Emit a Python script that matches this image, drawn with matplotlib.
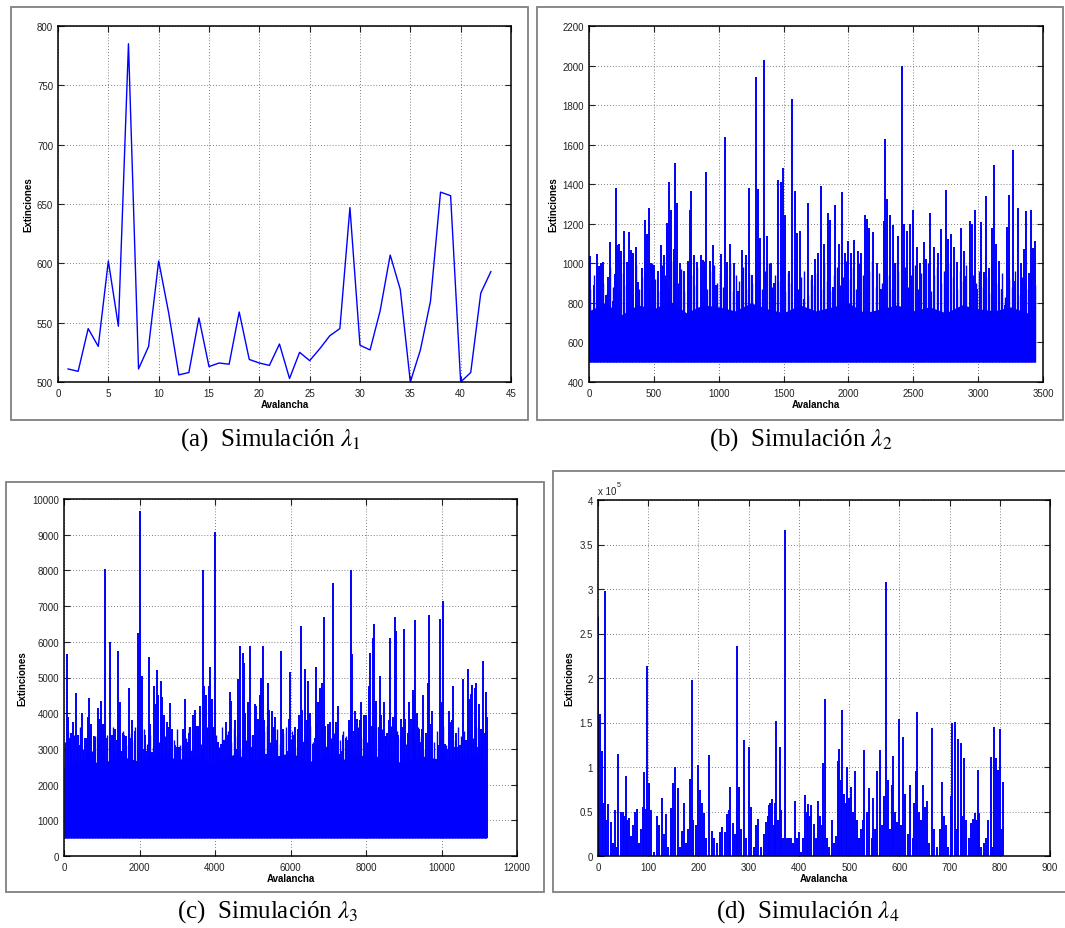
import matplotlib
matplotlib.use('Agg')
import matplotlib.pyplot as plt
from matplotlib.patches import Rectangle
from matplotlib.ticker import MultipleLocator

plt.rcParams['font.family'] = ['Liberation Sans', 'DejaVu Sans']
plt.rcParams['mathtext.fontset'] = 'stix'

# (a) lambda_1: every avalanche readable
a_x = list(range(1, 44))
a_y = [511, 509, 545, 530, 602, 547, 785, 511, 530, 602,
       558, 506, 508, 554, 513, 516, 515, 559, 519, 516,
       514, 532, 503, 525, 518, 528, 539, 545, 647, 531,
       527, 560, 607, 578, 500, 527, 568, 660, 657, 500,
       508, 575, 593]

# (b) lambda_2: visible spikes, mid-level texture, top of the dense core
b_base = 500
b_x = [5, 40, 60, 75, 95, 110, 130, 150, 165, 185,
       200, 205, 215, 230, 250, 270, 290, 305, 320, 340,
       360, 380, 410, 435, 450, 465, 480, 500, 530, 555,
       580, 600, 620, 635, 655, 665, 680, 700, 735, 760,
       775, 790, 810, 830, 860, 880, 900, 930, 955, 980,
       1020, 1045, 1065, 1090, 1120, 1150, 1180, 1210, 1235, 1260,
       1285, 1300, 1320, 1350, 1375, 1400, 1430, 1460, 1480, 1495,
       1510, 1540, 1565, 1590, 1605, 1630, 1660, 1690, 1720, 1740,
       1765, 1790, 1810, 1840, 1860, 1880, 1900, 1930, 1950, 1975,
       2000, 2020, 2045, 2070, 2100, 2125, 2140, 2160, 2190, 2220,
       2250, 2275, 2285, 2300, 2320, 2340, 2360, 2385, 2410, 2430,
       2450, 2475, 2500, 2530, 2555, 2580, 2600, 2630, 2660, 2690,
       2715, 2750, 2770, 2790, 2815, 2840, 2865, 2890, 2910, 2935,
       2950, 2975, 2995, 3020, 3045, 3060, 3080, 3105, 3125, 3140,
       3160, 3185, 3205, 3225, 3240, 3265, 3285, 3305, 3330, 3350,
       3370, 3390, 3410, 3425, 3438]
b_y = [1035, 890, 1045, 985, 1000, 1005, 840, 930, 1110, 810,
       945, 1380, 1095, 1100, 1060, 1165, 1005, 1160, 1065, 1050,
       1085, 905, 975, 1220, 1150, 1280, 1000, 990, 960, 1095,
       1040, 1205, 1410, 1270, 1075, 1505, 1305, 1000, 960, 1010,
       1270, 1365, 1040, 1005, 1040, 1015, 1460, 1010, 1095, 890,
       1045, 1640, 1005, 1100, 1000, 860, 1065, 1040, 1380, 940,
       1940, 1375, 1130, 2030, 1140, 1000, 900, 1420, 1410, 1480,
       1245, 960, 1830, 1365, 1155, 1165, 820, 1305, 940, 1020,
       1050, 1390, 1100, 1255, 1220, 880, 1295, 1100, 1360, 1050,
       1115, 1050, 1120, 1060, 1050, 1245, 1225, 1180, 1160, 1000,
       870, 1215, 1630, 1325, 1245, 1195, 1000, 1140, 2000, 1200,
       1165, 1200, 1270, 1085, 1000, 1110, 1020, 1255, 1085, 1050,
       1175, 1370, 1125, 1150, 1085, 1005, 1180, 1060, 935, 1215,
       1200, 1270, 870, 1210, 955, 1340, 975, 1180, 1495, 1100,
       1010, 870, 790, 1185, 1345, 1575, 910, 1280, 1000, 1070,
       1265, 950, 1270, 1080, 1115]
b_mid_x = list(range(10, 3440, 25))
b_mid_y = [870, 940, 820, 960, 900, 850, 980, 880, 930, 860,
           950, 890, 910, 840, 990, 870, 930, 960, 880, 1000,
           920, 860, 990, 940, 880, 1010, 950, 900, 970, 860,
           1000, 940, 890, 980, 920, 1010, 870, 960, 990, 900,
           950, 880, 930, 1000, 860, 940, 910, 980, 870, 950,
           900, 990, 920, 870, 960, 1000, 880, 940, 910, 980,
           860, 950, 900, 990, 870, 930, 960, 840, 920, 890,
           950, 870, 1000, 910, 860, 940, 980, 890, 930, 1010,
           920, 980, 870, 1000, 940, 890, 960, 1010, 880, 950,
           900, 990, 940, 870, 1000, 960, 910, 980, 880, 940,
           990, 870, 950, 910, 1000, 860, 940, 980, 900, 960,
           880, 1000, 930, 870, 960, 910, 990, 850, 940, 900,
           960, 880, 930, 850, 990, 900, 870, 950, 830, 920,
           880, 960, 840, 930, 900, 870, 950, 890]
b_core_x = [0, 125, 250, 375, 500, 625, 750, 875, 1000, 1125,
            1250, 1375, 1500, 1625, 1750, 1875, 2000, 2125, 2250, 2375,
            2500, 2625, 2750, 2875, 3000, 3125, 3250, 3375, 3440]
b_core_top = [760, 800, 740, 790, 770, 810, 750, 790, 780, 760,
              800, 770, 750, 790, 760, 780, 800, 750, 770, 790,
              760, 780, 750, 790, 770, 760, 780, 750, 770]

# (c) lambda_3
c_base = 500
c_x = [60, 80, 110, 150, 190, 230, 260, 300, 320, 370,
       430, 470, 490, 550, 600, 640, 650, 680, 720, 760,
       790, 830, 860, 890, 920, 960, 980, 1010, 1040, 1060,
       1080, 1110, 1150, 1180, 1210, 1250, 1280, 1320, 1350, 1400,
       1420, 1450, 1480, 1520, 1560, 1600, 1640, 1680, 1710, 1750,
       1790, 1830, 1870, 1920, 1960, 2010, 2040, 2070, 2110, 2150,
       2200, 2250, 2290, 2340, 2380, 2430, 2460, 2500, 2560, 2600,
       2650, 2700, 2740, 2780, 2820, 2860, 2900, 2950, 3000, 3050,
       3100, 3150, 3200, 3250, 3300, 3350, 3400, 3430, 3470, 3500,
       3550, 3600, 3650, 3690, 3720, 3760, 3800, 3840, 3880, 3920,
       3960, 4000, 4040, 4080, 4120, 4160, 4200, 4250, 4300, 4350,
       4390, 4430, 4470, 4520, 4560, 4600, 4650, 4700, 4740, 4760,
       4800, 4840, 4880, 4920, 4960, 5000, 5050, 5090, 5130, 5180,
       5230, 5260, 5300, 5350, 5400, 5430, 5480, 5520, 5560, 5600,
       5650, 5700, 5750, 5790, 5840, 5880, 5920, 5960, 5990, 6030,
       6060, 6110, 6160, 6200, 6230, 6280, 6310, 6350, 6390, 6430,
       6470, 6520, 6560, 6600, 6640, 6670, 6700, 6740, 6790, 6830,
       6880, 6920, 6960, 7000, 7050, 7100, 7130, 7180, 7210, 7250,
       7300, 7340, 7380, 7420, 7460, 7510, 7560, 7600, 7640, 7680,
       7720, 7760, 7800, 7840, 7880, 7920, 7960, 8000, 8040, 8080,
       8100, 8150, 8190, 8220, 8260, 8290, 8340, 8370, 8400, 8440,
       8480, 8520, 8560, 8600, 8640, 8680, 8720, 8760, 8800, 8840,
       8880, 8920, 8960, 9000, 9040, 9080, 9120, 9150, 9200, 9250,
       9280, 9310, 9350, 9400, 9440, 9480, 9520, 9560, 9600, 9630,
       9660, 9700, 9740, 9780, 9820, 9860, 9900, 9930, 9960, 10000,
       10030, 10060, 10100, 10150, 10190, 10230, 10270, 10300, 10340, 10380,
       10420, 10460, 10500, 10540, 10580, 10620, 10660, 10700, 10730, 10770,
       10800, 10840, 10880, 10910, 10950, 11000, 11040, 11080, 11110, 11150,
       11180, 11200]
c_y = [2450, 5650, 3900, 3300, 3450, 3750, 2100, 2800, 4560, 3400,
       3100, 2300, 4000, 3300, 3300, 3900, 4420, 3450, 3700, 2500,
       3350, 3200, 2600, 4150, 3150, 3850, 4330, 2950, 3700, 3700,
       8050, 2200, 3300, 2300, 6000, 2500, 3400, 3050, 3550, 3250,
       5750, 4050, 4300, 2950, 3450, 3400, 3350, 2400, 4700, 3300,
       3800, 2300, 3500, 2500, 6250, 9650, 2600, 5050, 3000, 3400,
       2950, 5580, 3700, 2900, 4750, 4250, 5200, 4500, 4900, 4450,
       3950, 3300, 3750, 3600, 4280, 3550, 1950, 3100, 3050, 3050,
       2350, 3550, 4400, 3200, 3450, 3600, 2950, 3950, 4100, 3650,
       3650, 4200, 3000, 8000, 4750, 4500, 1950, 4750, 5300, 4400,
       3600, 9080, 3150, 3200, 2800, 3150, 2550, 3250, 3750, 3400,
       4600, 4350, 2800, 3800, 3000, 4950, 5880, 2700, 5700, 5400,
       4000, 2150, 4300, 5880, 3050, 3400, 4250, 4200, 3850, 4500,
       5000, 5880, 3800, 2850, 4850, 4100, 3050, 4050, 3600, 3900,
       3250, 2800, 5750, 3550, 2750, 2700, 2950, 3850, 5150, 3250,
       3400, 3600, 2550, 3550, 3950, 6450, 4100, 3200, 5250, 3800,
       4900, 4000, 2250, 3150, 3300, 5300, 3700, 4300, 4700, 4850,
       6700, 3650, 3050, 3700, 3750, 3150, 7650, 2950, 3750, 4200,
       2850, 2950, 3400, 2700, 3300, 3250, 3800, 8000, 5650, 3500,
       4050, 3850, 2900, 3800, 4300, 2700, 3950, 3950, 2600, 4750,
       5700, 3650, 6100, 6500, 4350, 2650, 3600, 5050, 3950, 2800,
       4300, 3350, 3450, 3800, 6100, 2900, 3900, 6700, 6300, 3400,
       2500, 3850, 3600, 6350, 3850, 2850, 3450, 4300, 3850, 4650,
       4550, 6600, 4000, 3550, 3200, 3550, 4500, 2500, 3450, 4850,
       6750, 3700, 4050, 2600, 2200, 2650, 3100, 1700, 6650, 4300,
       7150, 2900, 3150, 3000, 4050, 3750, 3800, 4750, 3050, 3450,
       3050, 2950, 3100, 3300, 4950, 2800, 3250, 5250, 4400, 4550,
       4800, 2050, 4700, 4850, 3050, 4250, 3550, 3000, 5450, 3450,
       4600, 3900]
c_mid_x = list(range(30, 11200, 80))
c_mid_y = [3200, 3500, 2900, 3400, 3100, 3600, 3000, 3300, 3450, 2950,
           3350, 3150, 3550, 3000, 3400, 3250, 3600, 2900, 3300, 3500,
           3100, 3450, 3250, 3600, 3000, 3350, 3550, 3150, 3400, 3050,
           3500, 3200, 3600, 3350, 2950, 3450, 3250, 3550, 3100, 3400,
           3300, 3600, 3000, 3450, 3550, 3150, 3350, 3600, 3250, 3500,
           3400, 3050, 3600, 3300, 3500, 3200, 3550, 3350, 3000, 3450,
           3250, 3600, 3400, 3100, 3550, 3300, 3500, 3650, 3200, 3400,
           3550, 3150, 3450, 3600, 3300, 3500, 3050, 3400, 3600, 3250,
           3350, 3650, 3200, 3500, 3400, 3600, 3100, 3550, 3300, 3450,
           3600, 3250, 3500, 3350, 3650, 3150, 3450, 3600, 3300, 3550,
           3200, 3500, 3400, 3600, 3250, 3550, 3350, 3100, 3650, 3400,
           3500, 3300, 3600, 3150, 3450, 3550, 3250, 3600, 3350, 3000,
           3400, 3600, 3200, 3500, 3300, 3650, 3100, 3450, 3550, 3250,
           3600, 3350, 3500, 3150, 3450, 3300, 3600, 3250, 3500, 3400]
c_core_x = [0, 500, 1000, 1500, 2000, 2500, 3000, 3500, 4000, 4500,
            5000, 5500, 6000, 6500, 7000, 7500, 8000, 8500, 9000, 9500,
            10000, 10500, 11000, 11200]
c_core_top = [2500, 2700, 2600, 2800, 2650, 2900, 2700, 2800, 2600, 2850,
              2700, 2750, 2900, 2650, 2800, 2700, 2850, 2750, 2600, 2800,
              2700, 2750, 2800, 2550]

# (d) lambda_4, values in units of 1e5
d_x = [0, 4, 7, 10, 13, 16, 20, 25, 30, 33,
       38, 40, 45, 50, 52, 56, 58, 62, 66, 70,
       74, 78, 82, 86, 89, 91, 96, 98, 101, 106,
       112, 118, 122, 127, 132, 136, 140, 145, 150, 153,
       160, 163, 168, 171, 176, 180, 183, 187, 190, 195,
       199, 203, 208, 212, 216, 221, 226, 230, 236, 242,
       247, 252, 257, 260, 263, 268, 272, 276, 277, 280,
       285, 290, 294, 300, 304, 310, 315, 318, 325, 330,
       334, 338, 341, 343, 346, 350, 353, 355, 358, 362,
       365, 368, 372, 376, 380, 385, 389, 392, 396, 400,
       405, 408, 412, 416, 418, 422, 425, 430, 435, 438,
       442, 446, 448, 451, 455, 460, 465, 470, 474, 477,
       480, 483, 486, 490, 493, 496, 500, 503, 507, 511,
       515, 520, 524, 528, 530, 535, 540, 545, 548, 552,
       556, 562, 566, 569, 573, 577, 581, 585, 588, 592,
       596, 600, 604, 608, 612, 618, 622, 627, 630, 633,
       636, 640, 644, 648, 652, 656, 660, 666, 670, 675,
       680, 684, 688, 692, 697, 702, 704, 710, 714, 717,
       722, 725, 729, 733, 738, 742, 746, 750, 754, 756,
       759, 763, 768, 772, 777, 782, 786, 789, 792, 797,
       801, 805, 807]
d_y = [2.68, 1.6, 1.18, 0.6, 2.98, 0.4, 0.58, 0.38, 0.15, 0.52,
       0.1, 1.15, 0.5, 0.5, 0.45, 0.9, 0.4, 0.43, 0.22, 0.35,
       0.5, 0.53, 0.15, 0.3, 0.55, 0.94, 0.53, 2.14, 0.82, 0.52,
       0.05, 0.45, 0.35, 0.65, 0.25, 0.47, 0.1, 0.54, 0.82, 1.0,
       0.76, 0.1, 0.28, 0.6, 0.15, 0.3, 0.87, 1.98, 0.4, 0.35,
       1.02, 0.74, 0.6, 0.48, 0.2, 1.14, 0.28, 0.2, 0.15, 0.27,
       0.33, 0.27, 0.47, 0.52, 0.78, 0.37, 0.25, 0.5, 2.36, 0.78,
       0.3, 1.3, 0.2, 1.23, 0.55, 0.1, 0.35, 0.42, 0.1, 0.25,
       0.38, 0.45, 0.57, 0.6, 0.64, 0.35, 0.6, 1.52, 0.4, 1.22,
       0.52, 0.2, 3.66, 0.2, 0.2, 0.2, 0.15, 0.62, 0.2, 0.27,
       0.05, 0.2, 0.68, 0.5, 0.58, 0.45, 0.57, 0.36, 0.2, 0.62,
       0.45, 0.35, 1.04, 1.76, 0.2, 0.1, 0.4, 0.15, 0.22, 1.07,
       1.2, 0.85, 1.64, 0.7, 0.6, 1.0, 0.65, 0.78, 0.5, 0.96,
       0.4, 0.2, 0.3, 0.4, 1.19, 0.5, 0.76, 0.2, 0.65, 0.3,
       0.95, 1.19, 0.35, 0.67, 3.08, 0.85, 0.3, 0.8, 1.12, 0.5,
       0.38, 1.54, 0.35, 1.34, 0.7, 0.25, 0.8, 0.2, 0.6, 0.95,
       1.62, 0.5, 0.4, 0.8, 0.55, 0.62, 0.15, 1.44, 0.3, 0.1,
       0.3, 0.83, 0.45, 0.35, 0.1, 0.67, 1.5, 1.51, 0.3, 1.32,
       1.27, 0.45, 1.1, 0.4, 0.2, 0.37, 0.42, 0.48, 0.4, 0.97,
       0.48, 0.1, 0.15, 0.2, 0.4, 1.11, 0.1, 1.45, 1.1, 0.97,
       1.43, 0.3, 0.83]

captions = [r'(a)  Simulación $\lambda_1$', r'(b)  Simulación $\lambda_2$',
            r'(c)  Simulación $\lambda_3$', r'(d)  Simulación $\lambda_4$']

W, H = 1065, 929
fig = plt.figure(figsize=(W / 100, H / 100), dpi=100)
BLUE = '#0000ff'


def px_box(x0, y0, x1, y1):
    return [x0 / W, 1 - y1 / H, (x1 - x0) / W, (y1 - y0) / H]


def frame(x0, y0, x1, y1):
    l, b, w, h = px_box(x0, y0, x1, y1)
    fig.add_artist(Rectangle((l, b), w, h, transform=fig.transFigure,
                             fill=False, ec='#808080', lw=1.3))


def style(ax, ylab_x):
    ax.tick_params(direction='in', top=True, right=True, length=4, width=0.8,
                   labelsize=7, colors='#222222')
    ax.tick_params(axis='x', pad=4)
    ax.tick_params(axis='y', pad=3.5)
    for s in ax.spines.values():
        s.set_linewidth(1.1)
    ax.grid(True, linestyle=(0, (1, 2.5)), color='#555555', linewidth=0.6)
    ax.set_axisbelow(True)
    ax.set_xlabel('Avalancha', fontsize=7, fontweight='bold')
    ax.set_ylabel('Extinciones', fontsize=7, fontweight='bold')
    ax.xaxis.set_label_coords(0.5, -0.048)
    ax.yaxis.set_label_coords(ylab_x, 0.5)


# frames
frame(11, 8, 528, 421)
frame(537, 8, 1063, 421)
frame(6, 483, 544, 893)
frame(553, 472, 1066, 893)

# (a)
ax = fig.add_axes(px_box(58, 27, 511, 383))
ax.plot(a_x, a_y, color=BLUE, lw=1.0)
ax.set_xlim(0, 45)
ax.set_ylim(500, 800)
ax.xaxis.set_major_locator(MultipleLocator(5))
ax.yaxis.set_major_locator(MultipleLocator(50))
style(ax, -0.055)

# (b)
ax = fig.add_axes(px_box(589, 27, 1043, 383))
ax.fill_between(b_core_x, b_base, b_core_top, color=BLUE, lw=0)
ax.vlines(b_mid_x, b_base, b_mid_y, color=BLUE, lw=1.0)
ax.vlines(b_x, b_base, b_y, color=BLUE, lw=1.4)
ax.set_xlim(0, 3500)
ax.set_ylim(400, 2200)
ax.xaxis.set_major_locator(MultipleLocator(500))
ax.yaxis.set_major_locator(MultipleLocator(200))
style(ax, -0.068)

# (c)
ax = fig.add_axes(px_box(64, 500, 517, 857))
ax.fill_between(c_core_x, c_base, c_core_top, color=BLUE, lw=0)
ax.vlines(c_mid_x, c_base, c_mid_y, color=BLUE, lw=1.0)
ax.vlines(c_x, c_base, c_y, color=BLUE, lw=1.4)
ax.set_xlim(0, 12000)
ax.set_ylim(0, 10000)
ax.xaxis.set_major_locator(MultipleLocator(2000))
ax.yaxis.set_major_locator(MultipleLocator(1000))
style(ax, -0.08)

# (d)
ax = fig.add_axes(px_box(598, 501, 1050, 857))
ax.vlines(d_x, 0, d_y, color=BLUE, lw=1.4)
ax.set_xlim(0, 900)
ax.set_ylim(0, 4)
ax.xaxis.set_major_locator(MultipleLocator(100))
ax.yaxis.set_major_locator(MultipleLocator(0.5))
ax.yaxis.set_major_formatter(plt.FuncFormatter(lambda v, p: f'{v:g}'))
style(ax, -0.053)
ax.text(0.0, 1.012, 'x 10', transform=ax.transAxes, fontsize=7,
        ha='left', va='bottom', color='#222222')
ax.text(0.042, 1.035, '5', transform=ax.transAxes, fontsize=5,
        ha='left', va='bottom', color='#222222')

# captions
cap_pos = [(270, 440), (801, 440), (268, 912), (808, 912)]
for (cx, cy), txt in zip(cap_pos, captions):
    fig.text(cx / W, 1 - cy / H, txt, fontsize=18, ha='center', va='center',
             family='Liberation Serif')

fig.savefig('out.png', dpi=100)
